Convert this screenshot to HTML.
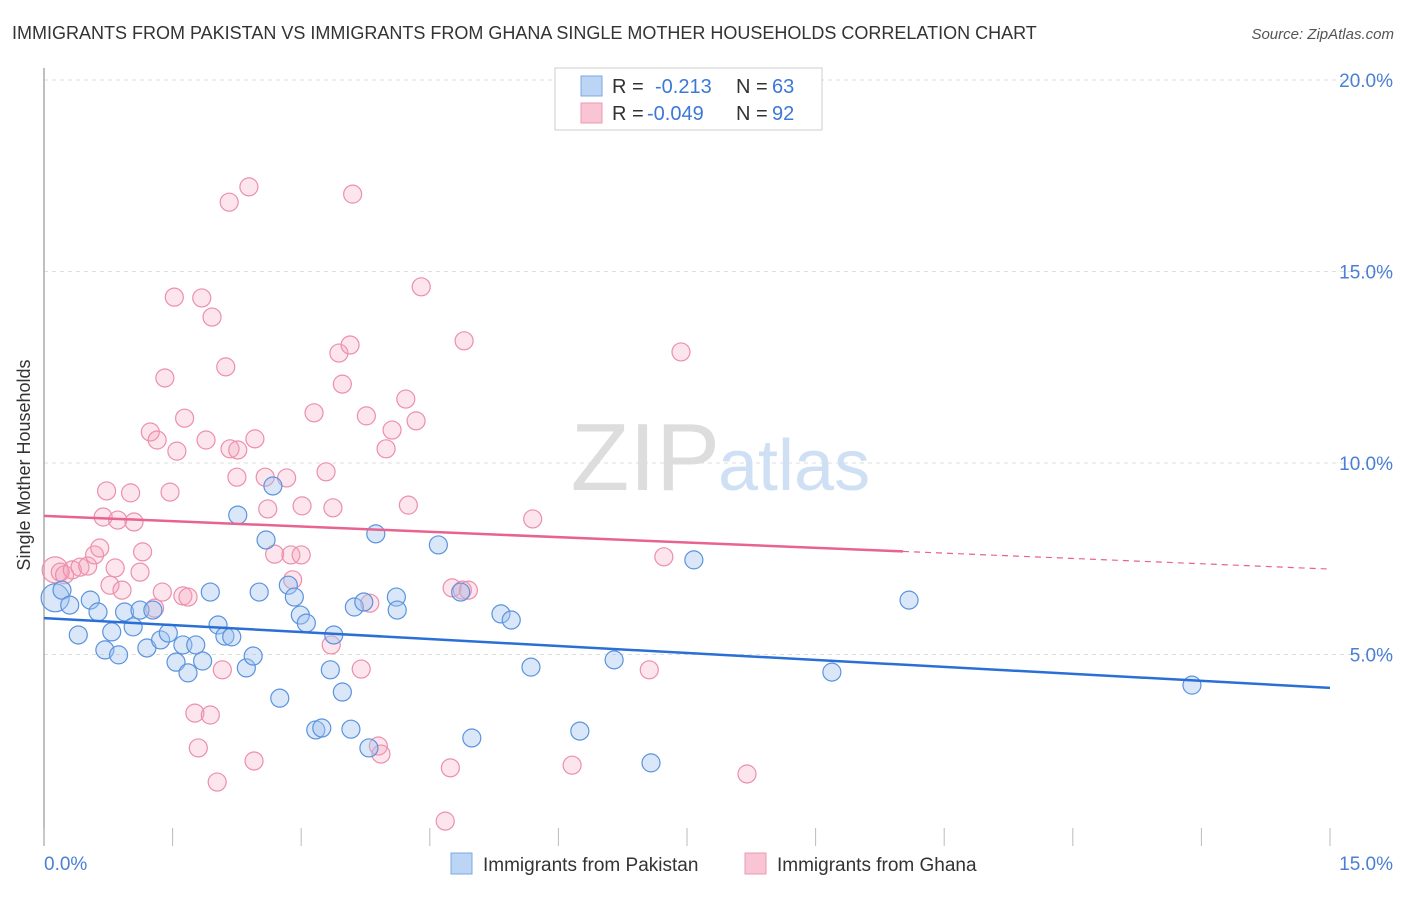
<!DOCTYPE html>
<html><head><meta charset="utf-8">
<style>
body{margin:0;background:#fff;font-family:"Liberation Sans",sans-serif;}
svg text{font-family:"Liberation Sans",sans-serif;}
</style></head>
<body>
<svg width="1406" height="892" xmlns="http://www.w3.org/2000/svg">
<text x="12" y="39" font-size="18" fill="#333">IMMIGRANTS FROM PAKISTAN VS IMMIGRANTS FROM GHANA SINGLE MOTHER HOUSEHOLDS CORRELATION CHART</text>
<text x="1394" y="39" font-size="15" fill="#555" font-style="italic" text-anchor="end">Source: ZipAtlas.com</text>
<g id="grid"></g>
<g id="axes"></g>
<text x="720" y="490" font-size="96" fill="#ddd" text-anchor="end" font-family="Liberation Serif">ZIP</text>
<text x="718" y="490" font-size="72" fill="#cfe0f5">atlas</text>
<g id="pts"></g>
<g id="trend"></g>
<text x="20" y="455" font-size="18" fill="#333" transform="rotate(-90 30 455)" text-anchor="middle">Single Mother Households</text>
<g>
<rect x="555" y="68" width="267" height="62" fill="#fff" stroke="#ccc"/>
<rect x="581" y="76" width="21" height="20" fill="#bcd5f5" stroke="#7aa8e6"/>
<rect x="581" y="103" width="21" height="20" fill="#f9c4d3" stroke="#eb9ab3"/>
<text x="612" y="93" font-size="20" fill="#333">R =</text><text x="655" y="93" font-size="20" fill="#3c78d8">-0.213</text>
<text x="736" y="93" font-size="20" fill="#333">N =</text><text x="772" y="93" font-size="20" fill="#3c78d8">63</text>
<text x="612" y="120" font-size="20" fill="#333">R =</text><text x="647" y="120" font-size="20" fill="#3c78d8">-0.049</text>
<text x="736" y="120" font-size="20" fill="#333">N =</text><text x="772" y="120" font-size="20" fill="#3c78d8">92</text>
</g>
<g>
<rect x="451" y="853" width="21" height="21" fill="#bcd5f5" stroke="#7aa8e6"/>
<text x="483" y="871" font-size="19" fill="#333">Immigrants from Pakistan</text>
<rect x="745" y="853" width="21" height="21" fill="#f9c4d3" stroke="#eb9ab3"/>
<text x="777" y="871" font-size="19" fill="#333">Immigrants from Ghana</text>
</g>
</svg>
<script>
const blueX=[0.13,0.21,0.30,0.40,0.54,0.63,0.71,0.79,0.87,0.94,1.04,1.12,1.20,1.27,1.36,1.45,1.54,1.62,1.68,1.77,1.85,1.94,2.03,2.11,2.19,2.26,2.36,2.44,2.51,2.59,2.67,2.75,2.85,2.92,2.99,3.06,3.17,3.24,3.34,3.38,3.48,3.58,3.62,3.73,3.79,3.87,4.11,4.12,4.60,4.86,4.99,5.33,5.45,5.68,6.25,6.65,7.08,7.58,9.19,10.09,13.39];
const blueY=[6.48,6.68,6.29,5.51,6.42,6.11,5.12,5.59,4.99,6.11,5.72,6.16,5.17,6.16,5.38,5.56,4.80,5.25,4.52,5.25,4.83,6.63,5.77,5.48,5.46,8.64,4.65,4.96,6.63,7.99,9.40,3.86,6.81,6.50,6.03,5.82,3.03,3.08,4.60,5.51,4.02,3.05,6.24,6.37,2.56,8.15,6.50,6.16,7.86,6.63,2.82,6.06,5.90,4.67,3.00,4.86,2.17,7.47,4.54,6.42,4.20];
const pinkX=[0.13,0.19,0.24,0.33,0.42,0.51,0.59,0.65,0.69,0.73,0.77,0.83,0.86,0.91,1.01,1.05,1.12,1.15,1.24,1.29,1.32,1.38,1.41,1.47,1.52,1.55,1.64,1.62,1.68,1.76,1.80,1.84,1.89,1.94,1.96,2.02,2.08,2.12,2.16,2.17,2.25,2.26,2.39,2.45,2.46,2.58,2.61,2.69,2.83,2.88,2.90,3.00,3.01,3.15,3.29,3.35,3.37,3.44,3.48,3.57,3.60,3.70,3.76,3.80,3.90,3.93,3.99,4.06,4.22,4.25,4.34,4.40,4.68,4.74,4.76,4.88,4.95,4.90,5.70,6.16,7.06,7.23,7.43,8.20];
const pinkY=[7.21,7.15,7.08,7.21,7.28,7.31,7.60,7.78,8.59,9.27,6.81,7.26,8.51,6.68,9.22,8.46,7.15,7.68,10.81,6.21,10.60,6.63,12.22,9.24,14.33,10.31,11.17,6.53,6.50,3.47,2.56,14.31,10.60,3.42,13.81,1.67,4.60,12.51,16.81,10.37,9.63,10.34,17.21,2.22,10.63,9.63,8.80,7.62,9.61,7.60,6.95,7.60,8.88,11.31,9.77,5.25,8.83,12.87,12.06,13.08,17.02,4.62,11.23,6.34,2.61,2.40,10.37,10.86,11.67,8.90,11.10,14.60,0.65,2.04,6.74,6.68,6.68,13.19,8.54,2.11,4.60,7.55,12.90,1.88];
const blueTrend=[5.95,4.13];
const pinkTrend=[8.62,7.23];
const pinkSolidEnd=10.02;
const yTicks=[5,10,15,20];
const NS='http://www.w3.org/2000/svg';
const X0=44,X1=1330,Y0=846,PPY=38.3;
const sx=v=>X0+v/15*(X1-X0);
const sy=v=>Y0-v*PPY;
function mk(tag,attrs,parent){const e=document.createElementNS(NS,tag);for(const k in attrs)e.setAttribute(k,attrs[k]);parent.appendChild(e);return e;}
const grid=document.getElementById('grid'),axes=document.getElementById('axes');
yTicks.forEach(t=>{
 const l=mk('line',{x1:X0,x2:1394,y1:sy(t),y2:sy(t),stroke:'#ddd','stroke-dasharray':'4,4'},grid);
 
 
 const tx=mk('text',{x:1393,y:sy(t)+7,'font-size':19,fill:'#4a7fd4','text-anchor':'end'},axes);
 tx.textContent=t.toFixed(1)+'%';
 
 
});
const ya=mk('line',{x1:X0,x2:X0,y1:68,y2:846,stroke:'#aaa','stroke-width':1.5},axes);


for(let i=0;i<=10;i++){
 const tk=mk('line',{x1:sx(i*1.5),x2:sx(i*1.5),y1:828,y2:846,stroke:'#bbb'},axes);
 
 
}
const xl0=mk('text',{x:44,y:870,'font-size':19,fill:'#4a7fd4'},axes);xl0.textContent='0.0%';


const xl1=mk('text',{x:1393,y:870,'font-size':19,fill:'#4a7fd4','text-anchor':'end'},axes);xl1.textContent='15.0%';


const pts=document.getElementById('pts');
pinkX.forEach((x,i)=>{
 const c=mk('circle',{cx:sx(x),cy:sy(pinkY[i]),r:i===0?13:9,fill:'rgba(244,160,185,0.28)',stroke:'#ec8fad','stroke-width':1.2},pts);
 
 
});
blueX.forEach((x,i)=>{
 const c=mk('circle',{cx:sx(x),cy:sy(blueY[i]),r:i===0?14:9,fill:'rgba(160,196,240,0.4)',stroke:'#5b93de','stroke-width':1.2},pts);
 
 
});
const tr=document.getElementById('trend');
const bl=mk('line',{x1:sx(0),y1:sy(blueTrend[0]),x2:sx(15),y2:sy(blueTrend[1]),stroke:'#2a6fd6','stroke-width':2.5},tr);


const pm=pinkTrend[0]+(pinkTrend[1]-pinkTrend[0])*pinkSolidEnd/15;
const pl=mk('line',{x1:sx(0),y1:sy(pinkTrend[0]),x2:sx(pinkSolidEnd),y2:sy(pm),stroke:'#e8638e','stroke-width':2.5},tr);


const pd=mk('line',{x1:sx(pinkSolidEnd),y1:sy(pm),x2:sx(15),y2:sy(pinkTrend[1]),stroke:'#e8638e','stroke-width':1.2,'stroke-dasharray':'6,5'},tr);


</script>
</body></html>
